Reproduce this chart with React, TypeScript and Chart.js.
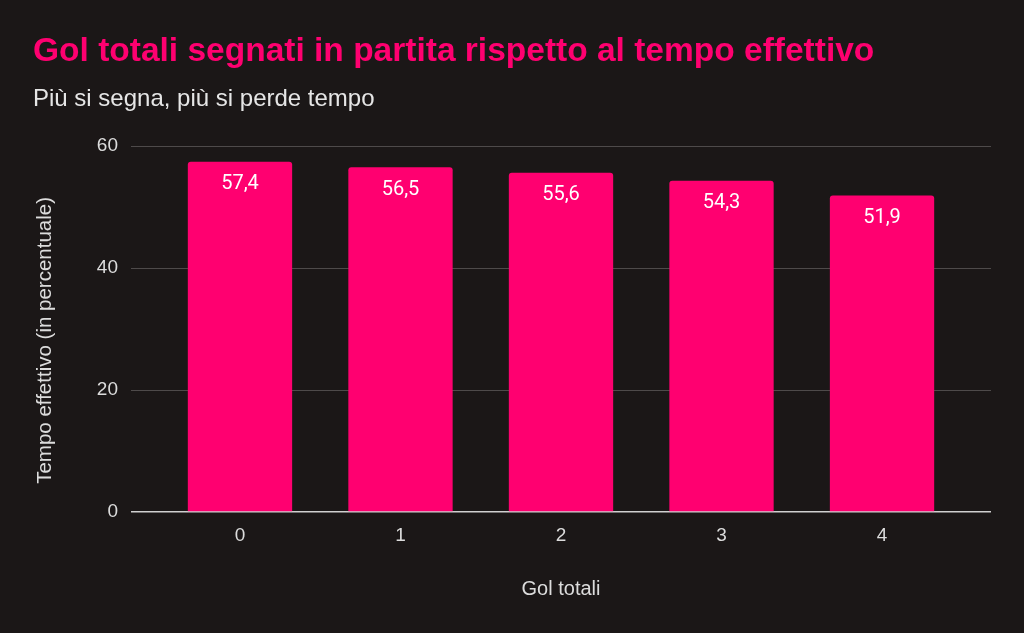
import React, { useEffect, useRef } from "react";
import { Chart, registerables } from "chart.js";

Chart.register(...registerables);

const categories: string[] = ["0", "1", "2", "3", "4"];
const values: number[] = [57.4, 56.5, 55.6, 54.3, 51.9];
const yTicks: number[] = [0, 20, 40, 60];

const TITLE = "Gol totali segnati in partita rispetto al tempo effettivo";
const SUBTITLE = "Più si segna, più si perde tempo";
const Y_TITLE = "Tempo effettivo (in percentuale)    ";
const X_TITLE = "Gol totali";

const PINK = "#ff0070";
const BG = "#1b1717";
const TEXT = "#dcdcdc";
const AXIS_FONT = "'Liberation Sans', Arial, sans-serif";

const valueLabels = {
  id: "valueLabels",
  afterDatasetsDraw(chart: any) {
    const ctx = chart.ctx;
    const meta = chart.getDatasetMeta(0);
    ctx.save();
    ctx.fillStyle = "#ffffff";
    ctx.font = "20px Roboto, sans-serif";
    ctx.textAlign = "center";
    ctx.textBaseline = "middle";
    meta.data.forEach((bar: any, i: number) => {
      const txt = values[i].toFixed(1).replace(".", ",");
      ctx.fillText(txt, bar.x, bar.y + 22.5);
    });
    ctx.restore();
  },
};

const bgPlugin = {
  id: "bgFill",
  beforeDraw(chart: any) {
    const ctx = chart.ctx;
    ctx.save();
    ctx.fillStyle = BG;
    ctx.fillRect(0, 0, chart.width, chart.height);
    ctx.restore();
  },
};

export default function App() {
  const ref = useRef<HTMLCanvasElement | null>(null);

  useEffect(() => {
    if (!ref.current) return;
    const chart = new Chart(ref.current, {
      type: "bar",
      data: {
        datasets: [
          {
            data: values.map((v, i) => ({ x: i, y: v })),
            backgroundColor: PINK,
            borderRadius: 3,
            borderSkipped: "start",
            categoryPercentage: 1,
            barPercentage: 0.65,
          },
        ],
      },
      options: {
        responsive: false,
        animation: false,
        devicePixelRatio: 1,
        layout: { padding: { left: 33, right: 33, top: 0, bottom: 0 } },
        plugins: {
          legend: { display: false },
          tooltip: { enabled: false },
          title: {
            display: true,
            text: TITLE,
            align: "start",
            color: PINK,
            font: { family: AXIS_FONT, size: 33.5, weight: "bold" },
            padding: { top: 31.3, bottom: 13.3 },
          },
          subtitle: {
            display: true,
            text: SUBTITLE,
            align: "start",
            color: "#e6e6e6",
            font: { family: AXIS_FONT, size: 24, weight: "normal" },
            padding: { top: 0, bottom: 32.4 },
          },
        },
        scales: {
          x: {
            type: "linear",
            min: -0.679,
            max: categories.length - 1 + 0.679,
            offset: false,
            grid: { display: false, drawTicks: false },
            border: { display: false },
            afterBuildTicks: (scale: any) => {
              scale.ticks = categories.map((_, i) => ({ value: i }));
            },
            afterFit: (scale: any) => {
              scale.height = 121;
            },
            ticks: {
              autoSkip: false,
              color: TEXT,
              padding: 12,
              font: { family: AXIS_FONT, size: 19 },
              callback: (v: any) => categories[v as number],
            },
            title: {
              display: true,
              text: X_TITLE,
              color: TEXT,
              font: { family: AXIS_FONT, size: 20 },
              padding: { top: 0, bottom: 32 },
            },
          },
          y: {
            min: yTicks[0],
            max: yTicks[yTicks.length - 1],
            afterBuildTicks: (scale: any) => {
              scale.ticks = yTicks.map((v) => ({ value: v }));
            },
            afterFit: (scale: any) => {
              scale.width = 98;
            },
            grid: {
              drawTicks: false,
              color: (c: any) => (c.tick && c.tick.value === 0 ? "#d0d0d0" : "#4e4a4a"),
              lineWidth: (c: any) => (c.tick && c.tick.value === 0 ? 1.5 : 1),
            },
            border: { display: false },
            ticks: {
              color: TEXT,
              padding: 13,
              font: { family: AXIS_FONT, size: 19 },
            },
            title: {
              display: true,
              text: Y_TITLE,
              color: TEXT,
              font: { family: AXIS_FONT, size: 20.5 },
              padding: { top: 0, bottom: 0 },
            },
          },
        },
      },
      plugins: [bgPlugin, valueLabels],
    } as any);
    return () => chart.destroy();
  }, []);

  return (
    <div
      style={{
        position: "fixed",
        left: 0,
        top: 0,
        width: 1024,
        height: 633,
        background: BG,
      }}
    >
      <canvas ref={ref} width={1024} height={633} style={{ display: "block" }} />
    </div>
  );
}
